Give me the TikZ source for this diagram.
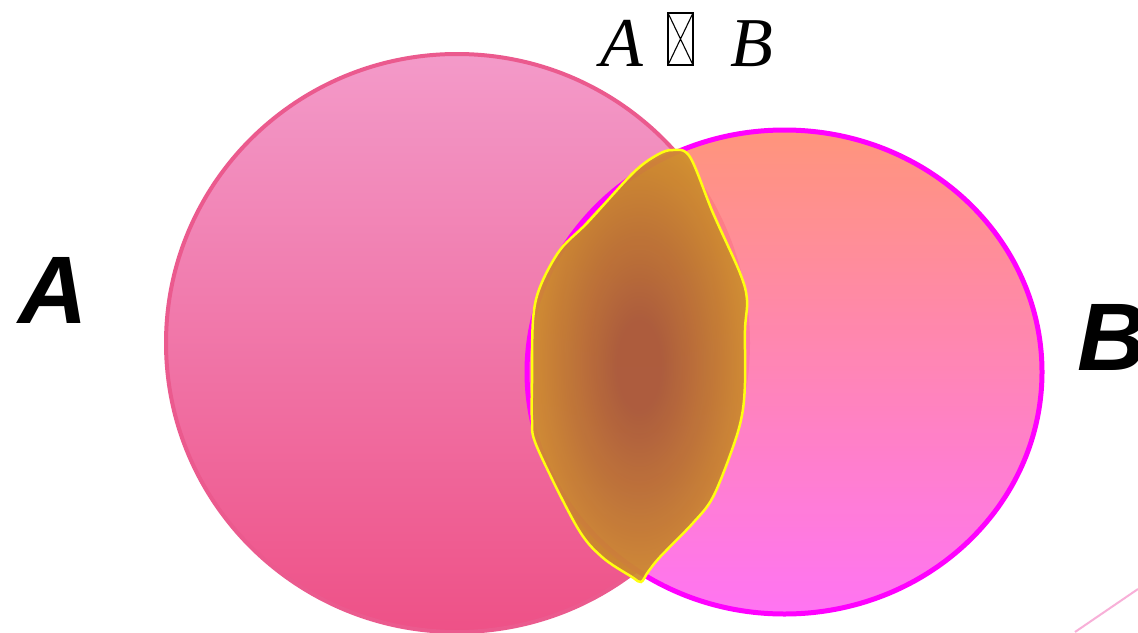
\documentclass[tikz,border=0pt]{standalone}
\usepackage{fontspec}
\setmainfont{Liberation Serif}
\newfontfamily\labelfont{Liberation Sans}
\usetikzlibrary{shapes.geometric}
\definecolor{atop}{HTML}{F39AC9}
\definecolor{abot}{HTML}{EE5187}
\definecolor{aedge}{HTML}{EB5A8E}
\definecolor{btop}{HTML}{FF8A6E}
\definecolor{bbot}{HTML}{FF66F2}
\definecolor{bedge}{HTML}{FF00FF}
\definecolor{lensin}{HTML}{A85B37}
\definecolor{lensmid}{HTML}{C4802F}
\definecolor{lensout}{HTML}{E4AC2A}
\definecolor{lensedge}{HTML}{FFFF10}
\definecolor{deco}{HTML}{F8B0D8}
\pgfdeclareradialshading{lensshade}{\pgfpoint{0bp}{0bp}}{color(0bp)=(lensin); color(5bp)=(lensin); color(20bp)=(lensmid); color(37bp)=(lensout); color(50bp)=(lensout)}
\tikzset{
  setlabel/.style={font=\labelfont\bfseries\itshape\fontsize{96}{100}\selectfont, inner sep=0pt, anchor=base west},
  titletext/.style={font=\itshape\fontsize{70}{74}\selectfont, inner sep=0pt, anchor=base west},
}
\begin{document}
\begin{tikzpicture}[x=1pt,y=-1pt]
\useasboundingbox (0,0) rectangle (1138,632);
\clip (0,0) rectangle (1138,632);
\fill[white] (0,0) rectangle (1138,632);
% circle A
\shade[top color=atop, bottom color=abot] (457,343) ellipse [x radius=291, y radius=289];
\draw[aedge, line width=4pt] (457,343) ellipse [x radius=291, y radius=289];
% circle B
\shade[top color=btop, bottom color=bbot, fill opacity=0.9] (784.5,372) ellipse [x radius=257.5, y radius=242];
\draw[bedge, line width=5pt] (784.5,372) ellipse [x radius=257.5, y radius=242];
% lens
\shade[shading=lensshade, fill opacity=0.94]
  plot[smooth cycle, tension=0.55] coordinates {(673,150) (690,157) (713,213) (740,273) (747,300) (745,330) (745,383) (742,415) (733,447) (713,497) (693,523) (660,557) (648,572) (641,582) (632,577) (602,557) (577,527) (537,447) (532,420) (532,383) (533,320) (540,287) (560,250) (588,222) (633,173) (657,155)};
\draw[lensedge, line width=2.5pt]
  plot[smooth cycle, tension=0.55] coordinates {(673,150) (690,157) (713,213) (740,273) (747,300) (745,330) (745,383) (742,415) (733,447) (713,497) (693,523) (660,557) (648,572) (641,582) (632,577) (602,557) (577,527) (537,447) (532,420) (532,383) (533,320) (540,287) (560,250) (588,222) (633,173) (657,155)};
% labels
\node[setlabel] (la) at (18,323) {A};
\node[setlabel] (lb) at (1077,370) {B};
\node[titletext] (ta) at (600,66) {A};
\node[titletext] (tb) at (730,66) {B};
\draw[line width=1.8pt] (668,13) rectangle (693,65);
\draw[line width=1.1pt] (668,13) -- (693,65) (693,13) -- (668,65);
% decorative line
\draw[deco, line width=2pt] (1075,632) -- (1138,589);
\end{tikzpicture}
\end{document}
